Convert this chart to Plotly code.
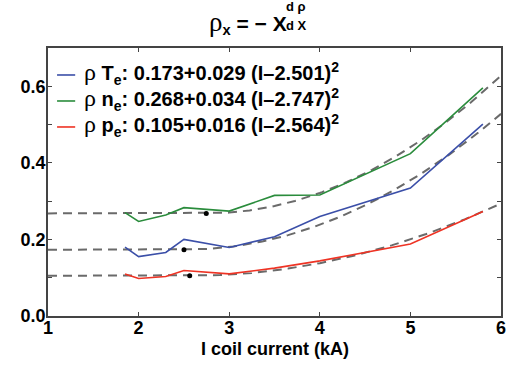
import numpy as np
import plotly.graph_objects as go

# measured data
current = [1.85, 2.0, 2.3, 2.5, 3.0, 3.5, 4.0, 5.0, 5.8]
rho_te = [0.180, 0.155, 0.166, 0.200, 0.179, 0.207, 0.260, 0.334, 0.501]
rho_ne = [0.270, 0.247, 0.264, 0.283, 0.274, 0.315, 0.316, 0.424, 0.596]
rho_pe = [0.110, 0.098, 0.103, 0.119, 0.110, 0.125, 0.144, 0.188, 0.273]

# fit parameters (from legend): a + c (I - b)^2 for I > b, a otherwise
names = ["T<sub>e</sub>", "n<sub>e</sub>", "p<sub>e</sub>"]
fit_a = [0.173, 0.268, 0.105]
fit_c = [0.029, 0.034, 0.016]
fit_b = [2.501, 2.747, 2.564]
colors = ["#3b4fa8", "#2a8c3c", "#ee3324"]
series = [rho_te, rho_ne, rho_pe]

FONT = "Liberation Sans, Arial, sans-serif"
SERIF = "Liberation Serif, DejaVu Serif, serif"
fig = go.Figure()

grid = np.linspace(1, 6, 201)
for a, c, b in zip(fit_a, fit_c, fit_b):
    yfit = np.where(grid < b, a, a + c * (grid - b) ** 2)
    fig.add_trace(go.Scatter(x=grid, y=yfit, mode="lines",
                             line=dict(color="#6a6a6a", width=2, dash="9px,6px"),
                             showlegend=False, hoverinfo="skip", cliponaxis=True))

for ys, col in zip(series, colors):
    fig.add_trace(go.Scatter(x=current, y=ys, mode="lines",
                             line=dict(color=col, width=1.6), showlegend=False))

fig.add_trace(go.Scatter(x=fit_b, y=fit_a, mode="markers",
                         marker=dict(color="black", size=5), showlegend=False))

# manual legend
leg_y = [0.6295, 0.5616, 0.4937]
for n, a, c, b, col, yy in zip(names, fit_a, fit_c, fit_b, colors, leg_y):
    fig.add_shape(type="line", xref="x", yref="y", x0=1.1, x1=1.3, y0=yy, y1=yy,
                  line=dict(color=col, width=1.6))
    fig.add_annotation(xref="x", yref="y", x=1.37, y=yy + 0.004, xanchor="left", yanchor="middle",
                       showarrow=False,
                       text=f"<span style='font-family:{SERIF};font-weight:normal;font-size:24px'>ρ</span> "
                            f"<b>{n}: {a:.3f}+{c:.3f} (I–{b:.3f})<sup>2</sup></b>",
                       font=dict(family=FONT, size=20, color="black"))

# title
fig.add_annotation(xref="paper", yref="paper", x=0.531, y=1.097, xanchor="right", yanchor="middle",
                   showarrow=False,
                   text=f"<span style='font-family:{SERIF};font-size:27px'>ρ</span><b><sub>x</sub> = − X</b>",
                   font=dict(family=FONT, size=21, color="black"))
fig.add_annotation(xref="paper", yref="paper", x=0.548, y=1.153, xanchor="center", yanchor="middle",
                   showarrow=False, text="<b>d ρ</b>", font=dict(family=FONT, size=13, color="black"))
fig.add_annotation(xref="paper", yref="paper", x=0.548, y=1.085, xanchor="center", yanchor="middle",
                   showarrow=False, text="<b>d X</b>", font=dict(family=FONT, size=13, color="black"))

# x-axis title
fig.add_annotation(xref="paper", yref="paper", x=0.5, y=-0.124, xanchor="center", yanchor="middle",
                   showarrow=False, text="<b>I coil current (kA)</b>",
                   font=dict(family=FONT, size=18, color="black"))

axis_common = dict(showline=True, linecolor="#444", linewidth=1.5, mirror="ticks",
                   ticks="inside", ticklen=4, tickcolor="#444", showgrid=False, zeroline=False,
                   automargin=False, tickfont=dict(family=FONT, size=18, color="black"))
fig.update_xaxes(range=[1, 6], dtick=1, ticklabelstandoff=-5,
                 tickprefix="<b>", ticksuffix="</b>", **axis_common)
fig.update_yaxes(range=[0, 0.7], dtick=0.2, tickformat=".1f", tickprefix="<b>", ticksuffix="</b>",
                 ticklabelstandoff=-3,
                 minor=dict(dtick=0.1, ticks="inside", ticklen=4, tickcolor="#444"),
                 **axis_common)

fig.update_layout(width=513, height=367, margin=dict(l=48, r=12, t=48, b=51),
                  paper_bgcolor="white", plot_bgcolor="white", showlegend=False)
fig.write_html("out.html")
